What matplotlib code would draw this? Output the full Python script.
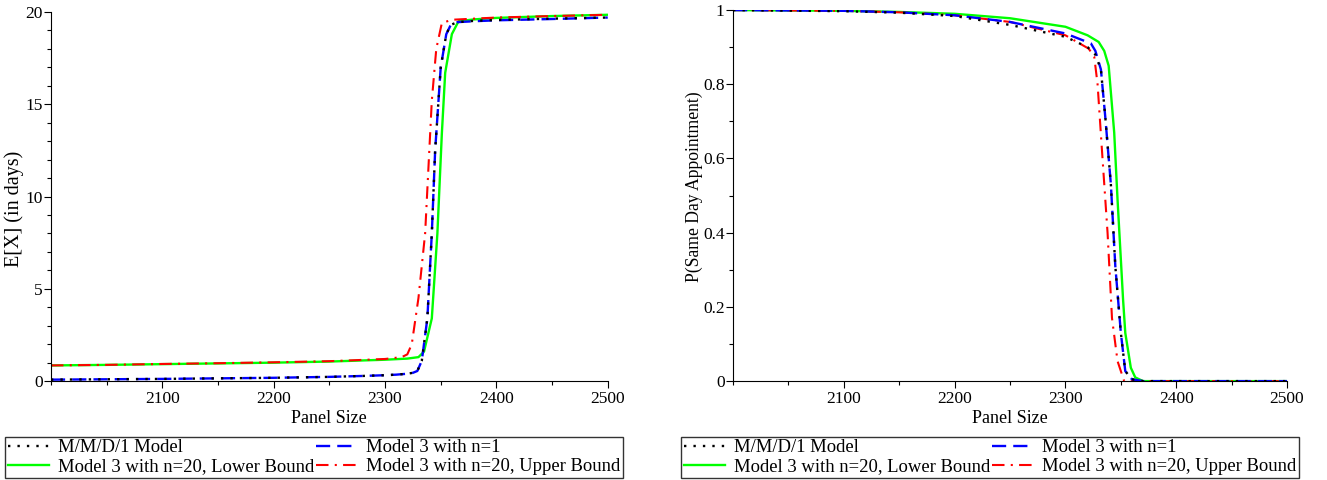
import matplotlib
matplotlib.use("Agg")
import matplotlib.pyplot as plt
from matplotlib.ticker import MultipleLocator, FuncFormatter, FixedLocator

plt.rcParams['font.family'] = ['Liberation Serif', 'DejaVu Serif']

labels = ['M/M/D/1 Model', 'Model 3 with n=1',
          'Model 3 with n=20, Lower Bound', 'Model 3 with n=20, Upper Bound']

# E[X] (in days) vs panel size
ex_mmd1_x = [2000, 2050, 2100, 2150, 2200, 2250, 2280, 2300, 2310, 2320, 2325, 2329, 2333, 2338,
             2342, 2345, 2350, 2355, 2359, 2365, 2380, 2400, 2450, 2500]
ex_mmd1_y = [0.08, 0.1, 0.12, 0.15, 0.18, 0.23, 0.28, 0.32, 0.35, 0.4, 0.45, 0.55, 1.1, 3.4,
             8.0, 12.5, 17.0, 18.8, 19.3, 19.45, 19.52, 19.57, 19.64, 19.7]
ex_n1_x = ex_mmd1_x
ex_n1_y = [0.08, 0.1, 0.12, 0.15, 0.18, 0.23, 0.28, 0.32, 0.35, 0.4, 0.45, 0.55, 1.1, 3.4,
           8.0, 12.5, 17.0, 18.8, 19.3, 19.45, 19.5, 19.55, 19.62, 19.7]
ex_lower_x = [2000, 2050, 2100, 2150, 2200, 2250, 2280, 2300, 2320, 2330, 2335, 2342, 2347,
              2351, 2354, 2360, 2366, 2380, 2400, 2450, 2500]
ex_lower_y = [0.85, 0.88, 0.92, 0.96, 1.0, 1.06, 1.12, 1.16, 1.22, 1.3, 1.6, 3.4, 8.0,
              13.4, 16.7, 18.8, 19.5, 19.6, 19.68, 19.78, 19.85]
ex_upper_x = [2000, 2050, 2100, 2150, 2200, 2250, 2280, 2300, 2315, 2320, 2324, 2330, 2336,
              2342, 2346, 2351, 2360, 2380, 2400, 2450, 2500]
ex_upper_y = [0.85, 0.88, 0.93, 0.97, 1.02, 1.08, 1.15, 1.2, 1.3, 1.45, 2.0, 4.5, 8.0,
              15.2, 18.0, 19.4, 19.58, 19.64, 19.7, 19.78, 19.85]

# P(same day appointment) vs panel size
p_mmd1_x = [2000, 2100, 2150, 2200, 2250, 2300, 2320, 2327, 2332, 2336, 2341, 2345, 2350,
            2354, 2360, 2370, 2500]
p_mmd1_y = [1.0, 0.997, 0.993, 0.984, 0.96, 0.928, 0.9, 0.88, 0.84, 0.71, 0.53, 0.31, 0.13,
            0.027, 0.005, 0.0, 0.0]
p_n1_x = [2000, 2100, 2150, 2200, 2250, 2300, 2323, 2327, 2332, 2336, 2341, 2345, 2350,
          2354, 2360, 2370, 2500]
p_n1_y = [1.0, 0.998, 0.994, 0.986, 0.968, 0.937, 0.91, 0.89, 0.84, 0.71, 0.53, 0.31, 0.13,
          0.027, 0.005, 0.0, 0.0]
p_lower_x = [2000, 2100, 2150, 2200, 2250, 2300, 2320, 2330, 2335, 2339, 2344, 2347, 2352,
             2354, 2359, 2363, 2370, 2500]
p_lower_y = [1.0, 0.998, 0.995, 0.99, 0.978, 0.955, 0.932, 0.914, 0.89, 0.85, 0.67, 0.49, 0.22,
             0.13, 0.036, 0.01, 0.0, 0.0]
p_upper_x = [2000, 2100, 2150, 2200, 2250, 2300, 2321, 2326, 2329, 2333, 2338, 2342, 2347,
             2353, 2500]
p_upper_y = [1.0, 0.998, 0.994, 0.986, 0.968, 0.932, 0.896, 0.874, 0.80, 0.62, 0.40, 0.17, 0.054,
             0.0, 0.0]

styles = [dict(color='black', linestyle=(0, (1, 3)), lw=1.7),
          dict(color='#0000ff', linestyle=(0, (6, 3)), lw=1.7),
          dict(color='#00ff00', linestyle='-', lw=1.7),
          dict(color='#ff0000', linestyle=(0, (6, 3, 1, 3)), lw=1.5)]

fig = plt.figure(figsize=(13.27, 4.8), dpi=100)
ax1 = fig.add_axes([0.0384, 0.206, 0.4196, 0.769])
ax2 = fig.add_axes([0.5524, 0.206, 0.4175, 0.773])

series1 = [(ex_mmd1_x, ex_mmd1_y), (ex_n1_x, ex_n1_y), (ex_lower_x, ex_lower_y), (ex_upper_x, ex_upper_y)]
series2 = [(p_mmd1_x, p_mmd1_y), (p_n1_x, p_n1_y), (p_lower_x, p_lower_y), (p_upper_x, p_upper_y)]

fmt = FuncFormatter(lambda v, p: '%g' % v)

for ax, series, ylim, ymaj, ymin, ylab, ylsize, ylpos, lx in [
        (ax1, series1, (0, 20), 5, 1, 'E[X] (in days)', 14.5, (-0.048, 0.466), 0.0038),
        (ax2, series2, (0, 1), 0.2, 0.1, 'P(Same Day Appointment)', 12.7, (-0.055, 0.524), 0.5131)]:
    handles = {}
    # draw order: green and red under blue and black
    for i in [2, 3, 1, 0]:
        xs, ys = series[i]
        h, = ax.plot(xs, ys, label=labels[i], **styles[i])
        handles[i] = h
    ax.set_xlim(2000, 2500)
    ax.set_ylim(*ylim)
    ax.xaxis.set_major_locator(FixedLocator([2100, 2200, 2300, 2400, 2500]))
    ax.xaxis.set_minor_locator(MultipleLocator(50))
    ax.yaxis.set_major_locator(MultipleLocator(ymaj))
    ax.yaxis.set_minor_locator(MultipleLocator(ymin))
    ax.yaxis.set_major_formatter(fmt)
    for s in ['top', 'right']:
        ax.spines[s].set_visible(False)
    ax.tick_params(direction='out', labelsize=12.5, length=5, width=0.8)
    ax.tick_params(which='minor', direction='out', length=3, width=0.8)
    ax.tick_params(axis='x', pad=2)
    ax.tick_params(axis='y', pad=1)
    ax.set_xlabel('Panel Size', fontsize=13, labelpad=2)
    ax.set_ylabel(ylab, fontsize=ylsize)
    ax.yaxis.set_label_coords(*ylpos)
    # legend fills column-wise, so order to get row-wise layout
    order = [0, 2, 1, 3]
    leg = fig.legend([handles[i] for i in order], [labels[i] for i in order],
                     ncol=2, loc='lower left',
                     bbox_to_anchor=(lx, 0.004, 0.466, 0.096), mode='expand',
                     fontsize=13.4, frameon=True, fancybox=False, borderaxespad=0,
                     handlelength=2.2, handletextpad=0.5, borderpad=0.15,
                     labelspacing=0.1, columnspacing=0.4)
    leg.get_frame().set_edgecolor('black')
    leg.get_frame().set_linewidth(1.0)

fig.savefig('out.png', dpi=100)
